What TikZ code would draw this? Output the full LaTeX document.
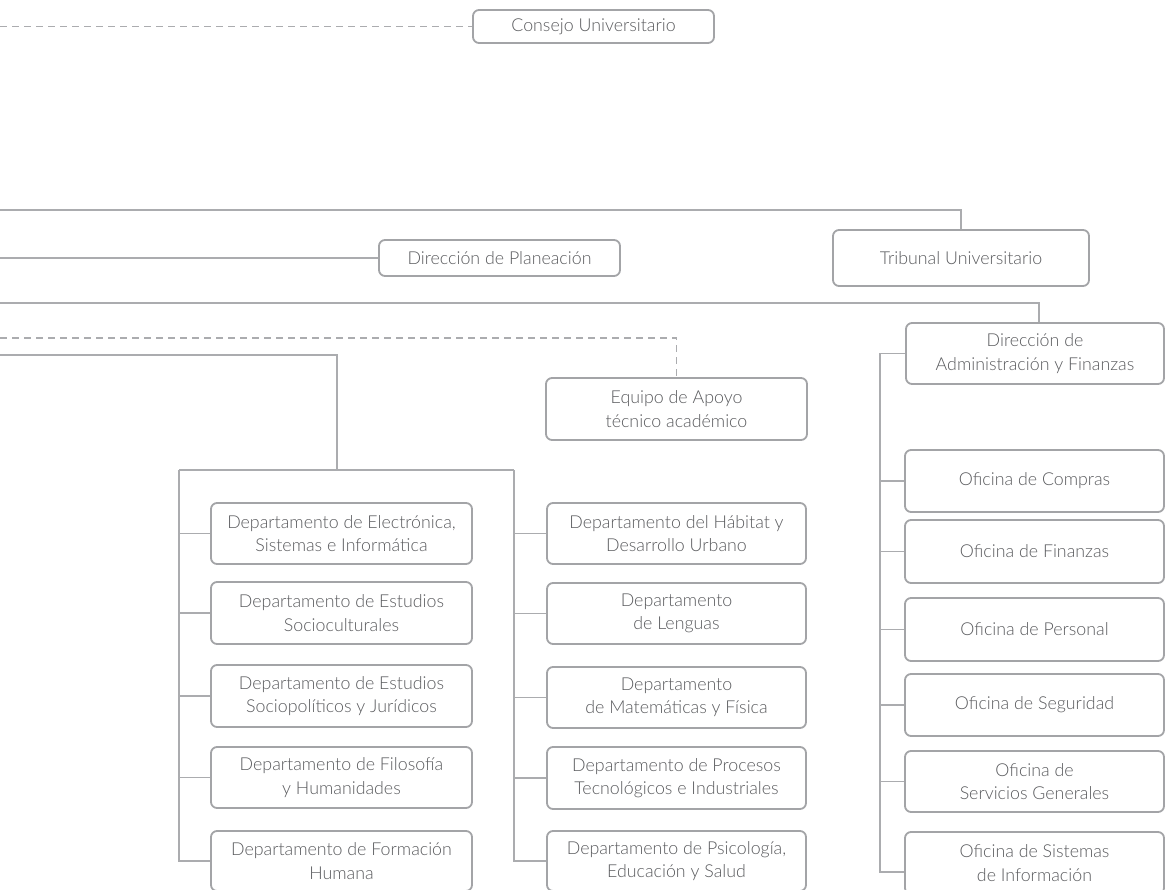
\documentclass[tikz,border=0pt]{standalone}
\usepackage{fontspec}
\IfFontExistsTF{Lato Light}{\setmainfont{Lato Light}}{\setmainfont{Lato}}
\usetikzlibrary{calc}
\definecolor{linegray}{HTML}{ABACAF}
\definecolor{boxgray}{HTML}{A3A4A7}
\definecolor{txtgray}{HTML}{5A5B5E}
\tikzset{
  orgbox/.style={draw=boxgray, line width=1.8pt, rounded corners=6pt, fill=white,
    text=txtgray, align=center, inner sep=0pt,
    font=\fontsize{17.8}{23.5}\selectfont},
  conn/.style={draw=linegray, line width=1.4pt},
  dconn/.style={draw=linegray, line width=1.3pt, dash pattern=on 7pt off 5pt},
}
\begin{document}
\begin{tikzpicture}[x=1pt, y=-1pt]
\useasboundingbox (0,0) rectangle (1165,890);
% top boxes
\node[orgbox, minimum width=241pt, minimum height=33pt] (consejo) at (593.5,26.5) {Consejo Universitario};
\node[orgbox, minimum width=256pt, minimum height=56pt] (tribunal) at (961,258) {Tribunal Universitario};
\node[orgbox, minimum width=241pt, minimum height=36pt] (planea) at (499.5,258) {Dirección de Planeación};
\node[orgbox, minimum width=258pt, minimum height=61pt] (admin) at (1035,353.5) {Dirección de\\Administración y Finanzas};
\node[orgbox, minimum width=261pt, minimum height=62pt] (equipo) at (676.5,409) {Equipo de Apoyo\\técnico académico};
% left departments
\node[orgbox, minimum width=261pt, minimum height=61pt] (dl1) at (341.5,533.5) {Departamento de Electrónica,\\Sistemas e Informática};
\node[orgbox, minimum width=261pt, minimum height=62pt] (dl2) at (341.5,613) {Departamento de Estudios\\Socioculturales};
\node[orgbox, minimum width=261pt, minimum height=62pt] (dl3) at (341.5,696) {Departamento de Estudios\\Sociopolíticos y Jurídicos};
\node[orgbox, minimum width=261pt, minimum height=61pt] (dl4) at (341.5,777.5) {Departamento de Filosofía\\y Humanidades};
\node[orgbox, minimum width=261pt, minimum height=60pt] (dl5) at (341.5,861) {Departamento de Formación\\Humana};
% right departments
\node[orgbox, minimum width=259pt, minimum height=61pt] (dr1) at (676.5,533.5) {Departamento del Hábitat y\\Desarrollo Urbano};
\node[orgbox, minimum width=259pt, minimum height=61pt] (dr2) at (676.5,613.5) {Departamento\\de Lenguas};
\node[orgbox, minimum width=259pt, minimum height=61pt] (dr3) at (676.5,697.5) {Departamento\\de Matemáticas y Física};
\node[orgbox, minimum width=259pt, minimum height=62pt] (dr4) at (676.5,778) {Departamento de Procesos\\Tecnológicos e Industriales};
\node[orgbox, minimum width=259pt, minimum height=60pt] (dr5) at (676.5,861) {Departamento de Psicología,\\Educación y Salud};
% oficinas
\node[orgbox, minimum width=259pt, minimum height=62pt] (of1) at (1034.5,481) {Oficina de Compras};
\node[orgbox, minimum width=259pt, minimum height=63pt] (of2) at (1034.5,551.5) {Oficina de Finanzas};
\node[orgbox, minimum width=259pt, minimum height=63pt] (of3) at (1034.5,629.5) {Oficina de Personal};
\node[orgbox, minimum width=259pt, minimum height=62pt] (of4) at (1034.5,705) {Oficina de Seguridad};
\node[orgbox, minimum width=259pt, minimum height=61pt] (of5) at (1034.5,781.5) {Oficina de\\Servicios Generales};
\node[orgbox, minimum width=259pt, minimum height=62pt] (of6) at (1034.5,863) {Oficina de Sistemas\\de Información};
% free ends at the left border
\coordinate (e1) at (0,26.5);
\coordinate (e2) at (0,210);
\coordinate (e3) at (0,258);
\coordinate (e4) at (0,303);
\coordinate (e5) at (0,338);
\coordinate (e6) at (0,355);
% junctions
\coordinate (jtop) at (337,470);
\coordinate (jl) at (179,470);
\coordinate (jr) at (514,470);
\coordinate (ja) at (880,353.5);
% connectors
\draw[dconn] (e1) -- (consejo.west);
\draw[conn] (e2) -| (tribunal.north);
\draw[conn] (e3) -- (planea.west);
\draw[conn] (e4) -| ($(admin.north)+(4,0)$);
\draw[dconn] (e5) -| (equipo.north);
\draw[conn] (e6) -| (jtop);
\draw[conn] (jl) -- (jr);
\draw[conn] (jl) |- (dl5.west);
\draw[conn] (jr) |- (dr5.west);
\foreach \n in {dl1,dl2,dl3,dl4}{\draw[conn] (jl |- \n.west) -- (\n.west);}
\foreach \n in {dr1,dr2,dr3,dr4}{\draw[conn] (jr |- \n.west) -- (\n.west);}
\draw[conn] (admin.west) -- (ja) |- ($(of6.west)+(0,9)$);
\foreach \n in {of1,of2,of3,of4,of5}{\draw[conn] (ja |- \n.west) -- (\n.west);}
\end{tikzpicture}
\end{document}
